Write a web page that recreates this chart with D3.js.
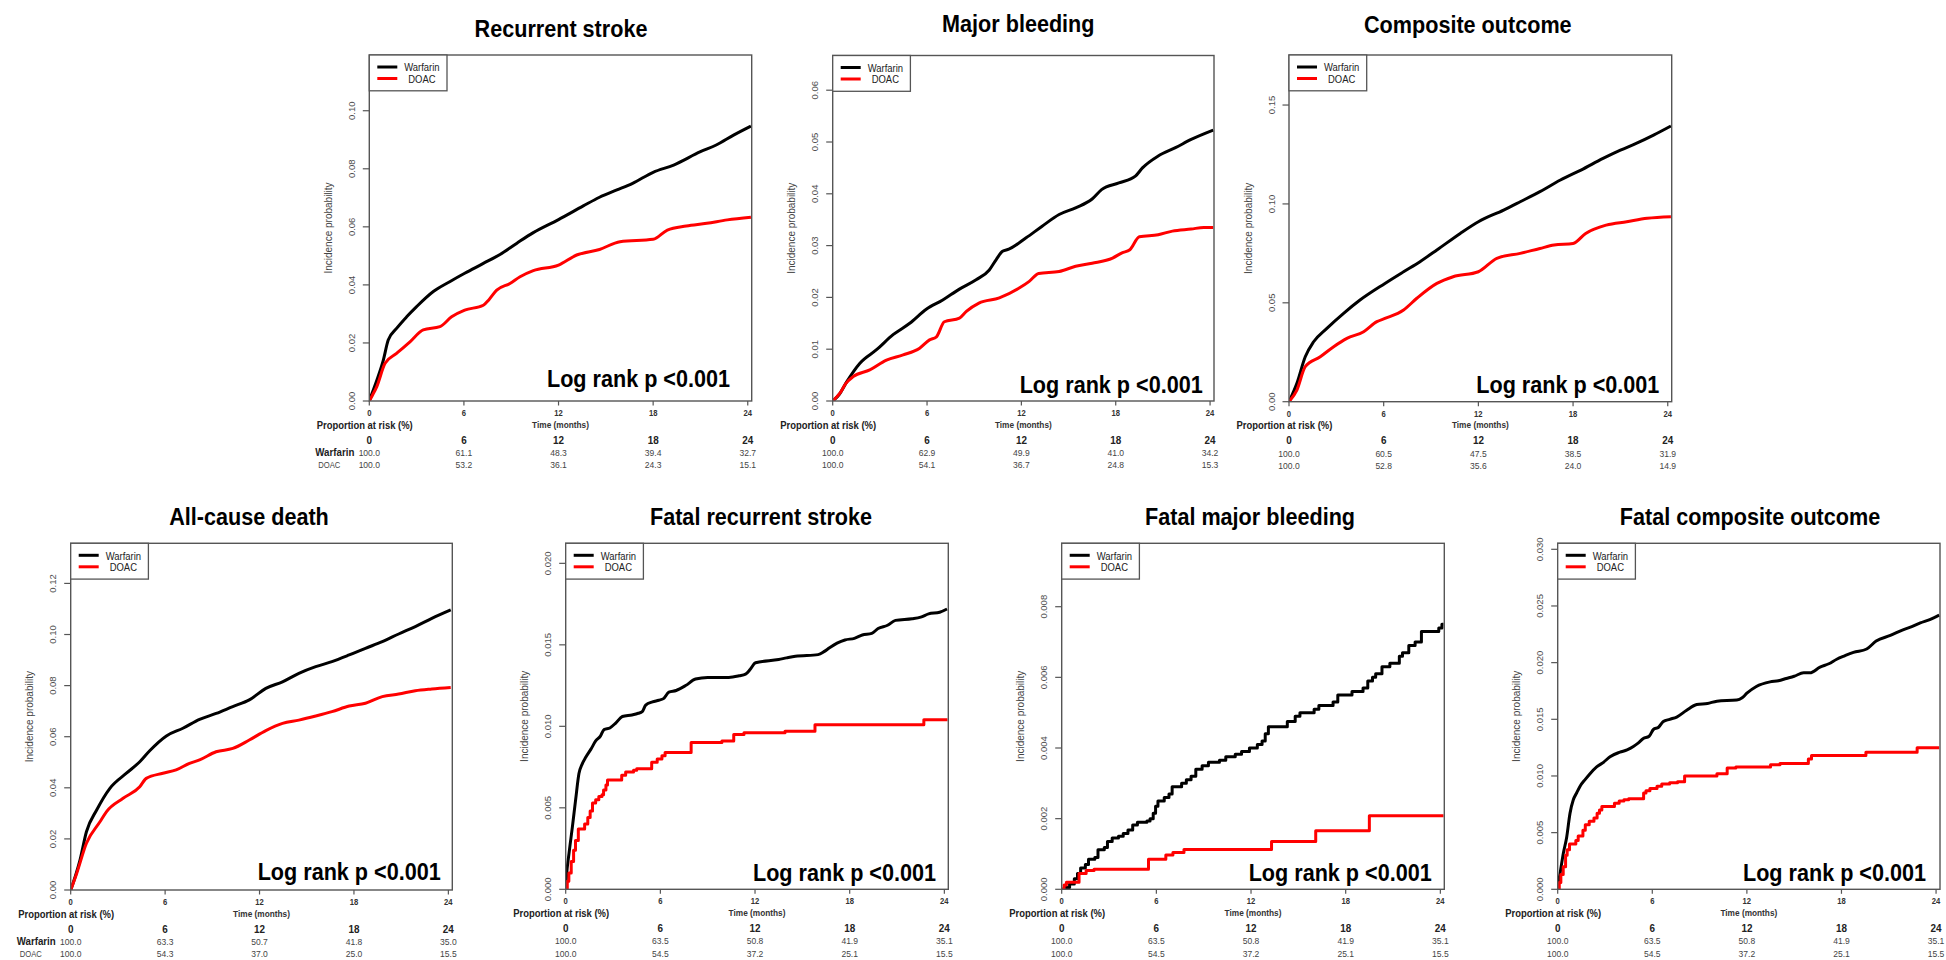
<!DOCTYPE html>
<html><head><meta charset="utf-8">
<script src="https://cdn.jsdelivr.net/npm/d3@7"></script>
<style>html,body{margin:0;padding:0;background:#fff;} svg{display:block;font-family:"Liberation Sans",Arial,sans-serif;}</style>
</head><body><svg id="chart" width="1946" height="960"></svg>
<script>
// ---------------- DATA ----------------
const panelTitles = ["Recurrent stroke","Major bleeding","Composite outcome","All-cause death","Fatal recurrent stroke","Fatal major bleeding","Fatal composite outcome"];
const seriesNames = ["Warfarin","DOAC"];
const timeTicks = [0,6,12,18,24];
const xAxisTitle = "Time (months)";
const yAxisTitle = "Incidence probability";
const riskTitle = "Proportion at risk (%)";
const logRankText = "Log rank p <0.001";
const yTickLabels = [
  ["0.00","0.02","0.04","0.06","0.08","0.10"],
  ["0.00","0.01","0.02","0.03","0.04","0.05","0.06"],
  ["0.00","0.05","0.10","0.15"],
  ["0.00","0.02","0.04","0.06","0.08","0.10","0.12"],
  ["0.000","0.005","0.010","0.015","0.020"],
  ["0.000","0.002","0.004","0.006","0.008"],
  ["0.000","0.005","0.010","0.015","0.020","0.025","0.030"]
];
const yMax = [0.1192, 0.0667, 0.1753, 0.1357, 0.02123, 0.009795, 0.03053];
const xMax = 24.25;

const riskWarfarin = [
  [100.0,61.1,48.3,39.4,32.7],
  [100.0,62.9,49.9,41.0,34.2],
  [100.0,60.5,47.5,38.5,31.9],
  [100.0,63.3,50.7,41.8,35.0],
  [100.0,63.5,50.8,41.9,35.1],
  [100.0,63.5,50.8,41.9,35.1],
  [100.0,63.5,50.8,41.9,35.1]
];
const riskDOAC = [
  [100.0,53.2,36.1,24.3,15.1],
  [100.0,54.1,36.7,24.8,15.3],
  [100.0,52.8,35.6,24.0,14.9],
  [100.0,54.3,37.0,25.0,15.5],
  [100.0,54.5,37.2,25.1,15.5],
  [100.0,54.5,37.2,25.1,15.5],
  [100.0,54.5,37.2,25.1,15.5]
];

// curves: [time (months), cumulative incidence]
const recurrentStrokeWarfarin = [[0,0],[0.2,0.003],[0.5,0.0075],[0.89,0.0141],[1.2,0.021],[1.73,0.025],[2.37,0.029],[3.0,0.0325],[4.06,0.0377],[5.1,0.0411],[6.05,0.044],[7.23,0.0474],[8.29,0.0505],[9.34,0.0543],[10.4,0.058],[12.0,0.0625],[13.57,0.0672],[14.6,0.0702],[15.7,0.0727],[16.7,0.075],[18.0,0.0788],[19.3,0.0813],[21.0,0.0859],[22.0,0.0882],[23.1,0.0916],[24.2,0.0947]];
const recurrentStrokeDOAC = [[0,0],[0.2,0.002],[0.47,0.0049],[1.0,0.013],[1.73,0.0164],[2.58,0.0204],[3.42,0.0245],[4.48,0.0256],[5.22,0.029],[6.05,0.0313],[7.23,0.033],[7.6,0.035],[8.08,0.0382],[8.92,0.0405],[9.56,0.0428],[10.4,0.0449],[12.0,0.0468],[13.15,0.0503],[14.6,0.0522],[15.9,0.0549],[18.0,0.0557],[18.9,0.0589],[20.1,0.0603],[21.4,0.0612],[22.7,0.0624],[24.2,0.0633]];

const majorBleedingWarfarin = [[0,0],[0.4,0.0012],[0.89,0.0037],[1.73,0.0073],[2.79,0.0099],[3.84,0.0128],[4.9,0.015],[5.95,0.0177],[7.0,0.0195],[8.06,0.0216],[9.12,0.0234],[9.96,0.0253],[10.4,0.0273],[10.8,0.0289],[11.2,0.0293],[12.3,0.0315],[13.3,0.0337],[14.4,0.036],[15.45,0.0373],[16.5,0.039],[17.1,0.0408],[18.2,0.0421],[19.25,0.0434],[19.7,0.045],[20.7,0.0473],[21.8,0.0489],[22.8,0.0505],[24.2,0.0523]];
const majorBleedingDOAC = [[0,0],[0.46,0.0015],[0.84,0.0034],[1.3,0.0047],[2.36,0.006],[3.42,0.0079],[4.48,0.0089],[5.53,0.0102],[6.16,0.0118],[6.6,0.0124],[7.1,0.0153],[8.06,0.016],[8.5,0.0173],[9.3,0.0189],[10.6,0.0199],[11.86,0.0218],[12.5,0.0231],[13.1,0.0246],[14.4,0.025],[15.45,0.026],[16.5,0.0266],[17.8,0.0276],[18.4,0.0286],[18.9,0.0292],[19.5,0.0317],[20.7,0.0321],[21.6,0.0328],[22.8,0.0332],[23.6,0.0335],[24.2,0.0335]];

const compositeWarfarin = [[0,0],[0.5,0.0093],[1.03,0.0227],[1.56,0.0303],[2.4,0.0371],[3.46,0.0447],[4.5,0.0514],[6.08,0.0598],[7.26,0.0657],[8.3,0.0708],[9.37,0.0767],[10.85,0.0851],[12.0,0.091],[13.6,0.0969],[14.65,0.1011],[15.9,0.1062],[17.2,0.1121],[18.5,0.1171],[19.9,0.123],[21.0,0.1272],[22.0,0.1306],[23.1,0.1348],[24.2,0.1394]];
const compositeDOAC = [[0,0],[0.5,0.0059],[1.03,0.0177],[1.98,0.0227],[2.83,0.0278],[3.67,0.032],[4.73,0.0354],[5.57,0.0405],[6.08,0.0421],[7.26,0.0464],[8.1,0.0523],[9.37,0.0598],[10.4,0.0632],[12.0,0.0657],[13.17,0.0725],[14.65,0.075],[15.9,0.0775],[16.8,0.0792],[18.0,0.08],[18.8,0.0851],[20.1,0.0893],[21.4,0.091],[22.7,0.0927],[24.2,0.0935]];

const deathWarfarin = [[0,0],[0.3,0.0055],[0.59,0.0117],[1.0,0.0228],[1.65,0.0313],[2.49,0.0398],[3.54,0.0457],[4.39,0.0502],[5.02,0.0545],[6.08,0.0603],[7.13,0.0633],[8.19,0.0668],[9.24,0.0691],[10.3,0.0718],[11.35,0.0744],[12.4,0.0789],[13.46,0.0815],[14.5,0.0848],[15.57,0.0874],[16.6,0.0894],[17.7,0.092],[18.73,0.0946],[19.8,0.0972],[20.84,0.1002],[21.9,0.1031],[22.95,0.1063],[24.15,0.1096]];
const deathDOAC = [[0,0],[0.38,0.0065],[1.0,0.0183],[1.86,0.0267],[2.28,0.0307],[3.33,0.0359],[4.39,0.0404],[4.8,0.0437],[5.86,0.0457],[6.7,0.047],[7.55,0.0496],[8.19,0.0509],[9.24,0.0541],[10.3,0.0554],[11.35,0.0587],[12.4,0.0624],[13.46,0.0652],[14.5,0.0665],[15.57,0.0681],[16.6,0.0698],[17.7,0.072],[18.73,0.0731],[19.8,0.0757],[20.84,0.0767],[21.9,0.078],[22.95,0.0787],[24.15,0.0793]];

const fatalStrokeWarfarin = [[0,0],[0.05,0.0008],[0.21,0.0022],[0.42,0.0038],[0.63,0.0055],[0.84,0.0071],[1.05,0.0077],[1.27,0.0081],[1.6,0.0086],[1.9,0.0091],[2.2,0.0094],[2.43,0.0098],[2.8,0.0099],[3.17,0.0102],[3.59,0.0106],[4.2,0.0107],[4.6,0.0108],[4.85,0.0109],[5.07,0.0113],[5.5,0.0115],[5.9,0.0116],[6.2,0.0117],[6.54,0.0121],[7.0,0.0122],[7.6,0.0125],[8.23,0.0129],[9.0,0.013],[10.34,0.013],[11.0,0.0131],[11.4,0.0132],[11.7,0.0135],[12.03,0.0139],[13.5,0.0141],[14.0,0.0142],[14.56,0.0143],[16.0,0.0144],[16.4,0.0146],[16.7,0.0148],[17.2,0.0151],[17.7,0.0153],[18.3,0.0154],[18.8,0.0156],[19.4,0.0157],[19.8,0.016],[20.4,0.0162],[20.9,0.0165],[21.95,0.0166],[22.5,0.0167],[23.0,0.0169],[23.7,0.017],[24.17,0.0172]];
const fatalStrokeDOAC = [[0,0],[0.1,0.0005],[0.2,0.001],[0.35,0.0017],[0.5,0.0024],[0.62,0.003],[0.8,0.0037],[1.2,0.004],[1.4,0.0044],[1.55,0.0048],[1.7,0.0053],[1.9,0.0055],[2.1,0.0057],[2.3,0.0058],[2.4,0.0061],[2.55,0.0064],[2.65,0.0067],[3.55,0.007],[3.8,0.0072],[4.3,0.0073],[4.5,0.0074],[5.45,0.0078],[5.8,0.008],[6.1,0.0082],[6.3,0.0084],[7.95,0.009],[9.9,0.0091],[10.65,0.0095],[11.3,0.0096],[13.9,0.0097],[15.8,0.0101],[22.7,0.0104],[24.2,0.0104]];

const fatalBleedingWarfarin = [[0,0],[0.25,0.00005],[0.5,0.00015],[0.8,0.0003],[1.0,0.00045],[1.2,0.0006],[1.5,0.0007],[1.7,0.00085],[2.1,0.0009],[2.3,0.00112],[2.7,0.00118],[2.9,0.00135],[3.2,0.00145],[3.6,0.0015],[3.9,0.00158],[4.2,0.00168],[4.5,0.00182],[4.8,0.0019],[5.4,0.00193],[5.6,0.002],[5.8,0.00215],[5.95,0.00235],[6.1,0.0025],[6.5,0.0026],[6.8,0.0027],[7.0,0.0029],[7.6,0.003],[7.9,0.0031],[8.2,0.0032],[8.5,0.0034],[8.9,0.0035],[9.3,0.0036],[10.0,0.00365],[10.4,0.00375],[11.0,0.00382],[11.4,0.0039],[11.9,0.004],[12.4,0.0041],[12.7,0.0042],[12.9,0.0044],[13.1,0.0046],[14.3,0.00475],[14.8,0.0049],[15.1,0.005],[16.0,0.0051],[16.3,0.0052],[17.2,0.0053],[17.5,0.0055],[18.4,0.0056],[19.1,0.0057],[19.4,0.0059],[19.7,0.006],[19.9,0.0061],[20.3,0.0063],[20.8,0.0064],[21.4,0.0066],[21.6,0.0067],[22.0,0.0069],[22.4,0.007],[22.8,0.0073],[23.6,0.0073],[23.9,0.0074],[24.1,0.0075],[24.2,0.0075]];
const fatalBleedingDOAC = [[0,0],[0.15,0.00012],[0.3,0.0002],[1.1,0.00045],[1.55,0.00053],[2.05,0.00057],[5.5,0.00085],[6.6,0.00097],[7.05,0.00104],[7.75,0.00113],[13.3,0.00135],[16.1,0.00166],[19.5,0.00208],[24.2,0.00208]];

const fatalCompositeWarfarin = [[0,0],[0.05,0.0006],[0.15,0.0014],[0.36,0.0032],[0.57,0.0046],[0.78,0.0067],[0.99,0.0079],[1.2,0.0085],[1.42,0.0091],[1.75,0.0097],[2.05,0.0102],[2.47,0.0108],[2.9,0.0112],[3.32,0.0117],[3.95,0.0121],[4.4,0.0123],[4.8,0.0126],[5.1,0.0129],[5.43,0.0133],[5.8,0.0135],[6.07,0.0141],[6.4,0.0143],[6.7,0.0148],[7.1,0.015],[7.55,0.0152],[8.18,0.0158],[8.82,0.0163],[9.5,0.0164],[10.1,0.0166],[11.36,0.0167],[11.7,0.0169],[12.0,0.0173],[12.6,0.0179],[13.47,0.0183],[14.0,0.0184],[14.5,0.0186],[15.0,0.0188],[15.6,0.0191],[16.0,0.0191],[16.64,0.0196],[17.2,0.0199],[17.7,0.0203],[18.2,0.0206],[18.76,0.0209],[19.6,0.0212],[20.2,0.0219],[21.1,0.0224],[21.9,0.0229],[22.5,0.0232],[23.0,0.0235],[23.6,0.0238],[24.2,0.0242]];
const fatalCompositeDOAC = [[0,0],[0.1,0.0006],[0.2,0.0013],[0.35,0.002],[0.5,0.003],[0.6,0.0035],[0.75,0.004],[1.15,0.0043],[1.3,0.0047],[1.6,0.0052],[1.75,0.0057],[2.0,0.006],[2.3,0.0063],[2.5,0.0067],[2.65,0.007],[2.8,0.0073],[3.6,0.0076],[3.9,0.0078],[4.2,0.0079],[4.5,0.008],[5.45,0.0085],[5.6,0.0087],[5.85,0.0089],[6.3,0.0091],[6.6,0.0093],[7.1,0.0094],[7.6,0.0095],[8.05,0.01],[10.1,0.0102],[10.75,0.0107],[11.3,0.0108],[13.5,0.011],[14.1,0.0111],[15.9,0.0115],[16.1,0.0118],[19.55,0.0121],[22.8,0.0125],[24.2,0.0125]];

const warfarinCurves = [recurrentStrokeWarfarin, majorBleedingWarfarin, compositeWarfarin, deathWarfarin, fatalStrokeWarfarin, fatalBleedingWarfarin, fatalCompositeWarfarin];
const doacCurves = [recurrentStrokeDOAC, majorBleedingDOAC, compositeDOAC, deathDOAC, fatalStrokeDOAC, fatalBleedingDOAC, fatalCompositeDOAC];

// ---------------- LAYOUT / STYLE ----------------
const layout = [
  {x0:369.3, x1:751.7, y0:55,    y1:401,   tx:561,    ty:36.7, lrDx:21.7, lrDy:14,  rowLabels:true},
  {x0:832.7, x1:1214,  y0:55.5,  y1:401,   tx:1018.3, ty:32.3, lrDx:11.3, lrDy:7.7, rowLabels:false},
  {x0:1289,  x1:1671.7,y0:55,    y1:401.7, tx:1467.8, ty:33.3, lrDx:12.4, lrDy:8.4, rowLabels:false},
  {x0:70.7,  x1:452.3, y0:543.3, y1:890,   tx:249,    ty:525,  lrDx:11.6, lrDy:10,  rowLabels:true},
  {x0:565.7, x1:948.3, y0:543.3, y1:889.3, tx:761,    ty:525,  lrDx:12.3, lrDy:8.3, rowLabels:false},
  {x0:1061.7,x1:1444.3,y0:543.3, y1:889.3, tx:1250,   ty:525,  lrDx:12.6, lrDy:8,   rowLabels:false},
  {x0:1557.7,x1:1940,  y0:543.3, y1:889.3, tx:1750,   ty:525,  lrDx:14,   lrDy:8,   rowLabels:false}
];
const stepWarfarin = [false,false,false,false,false,true,false];
const stepDOAC     = [false,false,false,false,true,true,true];
const colors = ["#000000","#ff0000"];
const SX = 0.9; // horizontal condensing of the original figure's text

const svg = d3.select("#chart");
svg.append("rect").attr("width",1946).attr("height",960).attr("fill","#fff");

function txt(g, x, y, s, o) {
  return g.append("text")
    .attr("transform", `translate(${x},${y}) scale(${SX},1)`)
    .attr("text-anchor", o.anchor || "start")
    .style("font-size", o.size + "px")
    .style("font-weight", o.weight || "normal")
    .attr("fill", o.fill || "#000")
    .text(s);
}

panelTitles.forEach((title, i) => {
  const L = layout[i];
  const g = svg.append("g");
  const x = d3.scaleLinear().domain([0, xMax]).range([L.x0, L.x1]);
  const y = d3.scaleLinear().domain([0, yMax[i]]).range([L.y1, L.y0]);

  const clipId = "clip" + i;
  svg.append("clipPath").attr("id", clipId).append("rect")
    .attr("x", L.x0).attr("y", L.y0).attr("width", L.x1 - L.x0).attr("height", L.y1 - L.y0);

  // curves: Warfarin first, DOAC drawn on top
  const series = [[warfarinCurves[i], stepWarfarin[i], colors[0]], [doacCurves[i], stepDOAC[i], colors[1]]];
  series.forEach(([data, step, col]) => {
    const line = d3.line().x(d => x(d[0])).y(d => y(d[1]))
      .curve(step ? d3.curveStepAfter : d3.curveMonotoneX);
    g.append("path").attr("clip-path", `url(#${clipId})`)
      .attr("d", line(data)).attr("fill", "none").attr("stroke", col)
      .attr("stroke-width", 3).attr("stroke-linejoin", "round");
  });

  // box
  g.append("rect").attr("x", L.x0).attr("y", L.y0).attr("width", L.x1 - L.x0).attr("height", L.y1 - L.y0)
    .attr("fill", "none").attr("stroke", "#555").attr("stroke-width", 1.4);

  // y axis
  const yt = yTickLabels[i];
  yt.forEach(lbl => {
    const v = +lbl, py = y(v);
    g.append("line").attr("x1", L.x0).attr("x2", L.x0 - 6.5).attr("y1", py).attr("y2", py)
      .attr("stroke", "#555").attr("stroke-width", 1.2);
    g.append("text").attr("transform", `translate(${L.x0 - 14.5},${py}) rotate(-90)`)
      .attr("text-anchor", "middle").style("font-size", "9.5px").attr("fill", "#4d4d4d").text(lbl);
  });
  g.append("text").attr("transform", `translate(${L.x0 - 37.5},${(L.y0 + L.y1) / 2}) rotate(-90)`)
    .attr("text-anchor", "middle").style("font-size", "10px").attr("fill", "#444").text(yAxisTitle);

  // x axis
  timeTicks.forEach(t => {
    const px = x(t);
    g.append("line").attr("x1", px).attr("x2", px).attr("y1", L.y1).attr("y2", L.y1 + 4.5)
      .attr("stroke", "#555").attr("stroke-width", 1.2);
    txt(g, px, L.y1 + 15, String(t), {anchor: "middle", size: 8.5, weight: "bold", fill: "#333"});
  });
  txt(g, (L.x0 + L.x1) / 2, L.y1 + 26.5, xAxisTitle, {anchor: "middle", size: 9.2, weight: "bold", fill: "#333"});

  // legend
  const lw = 77.7, lh = 35.8;
  g.append("rect").attr("x", L.x0).attr("y", L.y0).attr("width", lw).attr("height", lh)
    .attr("fill", "#fff").attr("stroke", "#555").attr("stroke-width", 1.3);
  seriesNames.forEach((nm, k) => {
    const ly = L.y0 + 12 + k * 11.5;
    g.append("line").attr("x1", L.x0 + 8).attr("x2", L.x0 + 28).attr("y1", ly).attr("y2", ly)
      .attr("stroke", colors[k]).attr("stroke-width", 3);
    txt(g, L.x0 + (k === 0 ? 35 : 39), ly + 4.2, nm, {size: 10.5, fill: "#222"});
  });

  // title + log rank
  txt(g, L.tx, L.ty, title, {anchor: "middle", size: 24, weight: "bold"});
  txt(g, L.x1 - L.lrDx, L.y1 - L.lrDy, logRankText, {anchor: "end", size: 24, weight: "bold"});

  // risk table
  txt(g, L.x0 - 52.5, L.y1 + 27.5, riskTitle, {size: 10.5, weight: "bold", fill: "#222"});
  timeTicks.forEach((t, k) => {
    const px = x(t);
    txt(g, px, L.y1 + 42.5, String(t), {anchor: "middle", size: 11, weight: "bold", fill: "#222"});
    txt(g, px, L.y1 + 55, riskWarfarin[i][k].toFixed(1), {anchor: "middle", size: 9.5, fill: "#444"});
    txt(g, px, L.y1 + 67.3, riskDOAC[i][k].toFixed(1), {anchor: "middle", size: 9.5, fill: "#444"});
  });
  if (L.rowLabels) {
    txt(g, L.x0 - 54, L.y1 + 55, seriesNames[0], {size: 10.8, weight: "bold", fill: "#222"});
    txt(g, L.x0 - 51, L.y1 + 67.3, seriesNames[1], {size: 8.5, fill: "#444"});
  }
});
</script></body></html>
